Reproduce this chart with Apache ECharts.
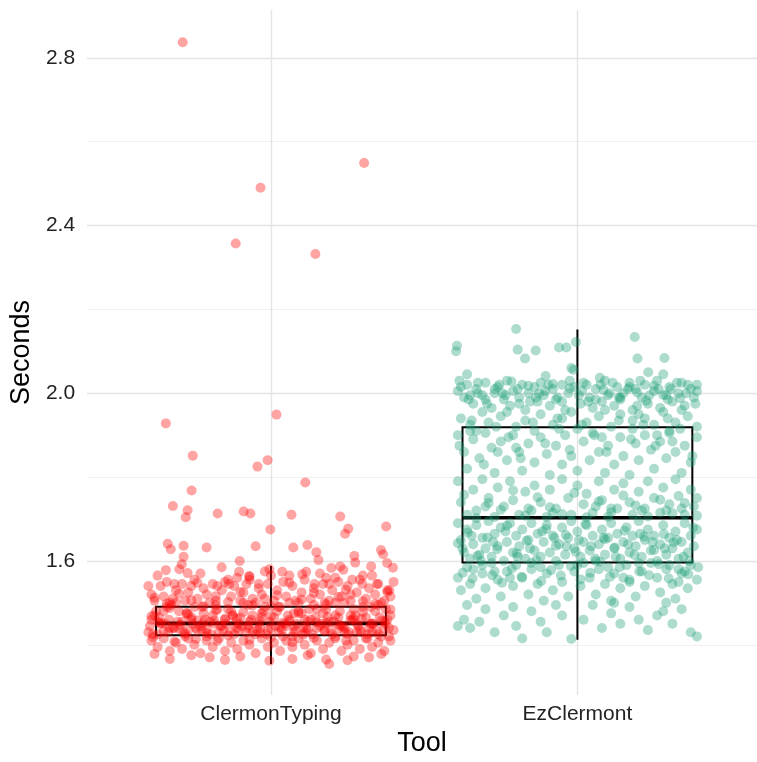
<!DOCTYPE html>
<html>
<head>
<meta charset="utf-8">
<title>Seconds by tool</title>
<script src="https://cdn.jsdelivr.net/npm/echarts@6/dist/echarts.min.js"></script>
<style>
  html, body { margin: 0; padding: 0; background: #ffffff; }
  #tool_seconds { width: 757px; height: 762px; }
</style>
</head>
<body>
<div id="tool_seconds"></div>
<script>
// ------------------------------
// Data
// ------------------------------

var categories = ["ClermonTyping", "EzClermont"];

// y tick values (labelled majors, unlabelled minors)
var yMajorTicks = [1.6, 2.0, 2.4, 2.8];
var yMinorTicks = [1.4, 1.8, 2.2, 2.6];

// box stats per tool: [lower whisker, Q1, median, Q3, upper whisker]
var boxStats = [
  [1.354, 1.423, 1.451, 1.4905, 1.588],
  [1.412, 1.596, 1.703, 1.919, 2.152]
];

// jittered points: [horizontal jitter, seconds]
var clermonTypingPoints = [
  // high outliers
  [-0.288, 2.837], [0.304, 2.549], [-0.034, 2.49], [-0.115, 2.357], [0.145, 2.332],
  [-0.343, 1.928], [0.018, 1.949], [-0.255, 1.851], [-0.011, 1.84], [-0.044, 1.825],
  [0.112, 1.787], [-0.259, 1.768], [-0.32, 1.731], [-0.272, 1.721], [-0.278, 1.704],
  [-0.174, 1.713], [-0.089, 1.718], [-0.067, 1.713], [0.067, 1.71], [-0.002, 1.675],
  [0.226, 1.706], [0.252, 1.677], [0.242, 1.665], [0.376, 1.682], [-0.337, 1.641],
  [-0.327, 1.628], [-0.285, 1.636], [-0.21, 1.632], [-0.05, 1.635], [0.073, 1.632],
  [0.119, 1.638], [0.148, 1.621], [0.155, 1.602], [0.359, 1.626], [0.366, 1.616],
  [-0.285, 1.61], [-0.291, 1.592], [-0.343, 1.578], [-0.272, 1.571], [-0.161, 1.585],
  [-0.102, 1.6], [-0.104, 1.574], [-0.005, 1.58], [0.037, 1.574], [0.102, 1.568],
  [0.115, 1.574], [0.197, 1.583], [0.226, 1.587], [0.236, 1.579], [0.272, 1.612],
  [0.275, 1.596], [0.327, 1.587], [0.379, 1.595], [0.398, 1.584], [-0.07, 1.562],
  [-0.299, 1.58], [-0.315, 1.545], [-0.24, 1.548], [-0.175, 1.54], [-0.136, 1.545],
  [-0.08, 1.545], [-0.071, 1.564], [-0.04, 1.545], [0.06, 1.548], [0.142, 1.545],
  [0.19, 1.545], [0.244, 1.531], [0.265, 1.555], [0.298, 1.545], [0.346, 1.545],
  [0.386, 1.53],
  [-0.37, 1.565], [-0.23, 1.57], [-0.14, 1.555], [-0.02, 1.575], [0.06, 1.565],
  [0.16, 1.57], [0.21, 1.56], [0.33, 1.565], [0.4, 1.55], [-0.4, 1.54],
  // 1.50 - 1.56
  [-0.39, 1.52], [-0.38, 1.505], [-0.36, 1.54], [-0.35, 1.515], [-0.34, 1.55],
  [-0.32, 1.51], [-0.31, 1.53], [-0.29, 1.545], [-0.28, 1.505], [-0.27, 1.525],
  [-0.25, 1.555], [-0.24, 1.51], [-0.22, 1.535], [-0.21, 1.52], [-0.19, 1.545],
  [-0.18, 1.505], [-0.16, 1.53], [-0.15, 1.55], [-0.13, 1.515], [-0.12, 1.54],
  [-0.1, 1.505], [-0.09, 1.525], [-0.07, 1.555], [-0.06, 1.51], [-0.04, 1.535],
  [-0.03, 1.52], [-0.01, 1.545], [0.01, 1.505], [0.02, 1.53], [0.04, 1.55],
  [0.05, 1.515], [0.07, 1.54], [0.08, 1.505], [0.1, 1.525], [0.11, 1.555],
  [0.13, 1.51], [0.14, 1.535], [0.16, 1.52], [0.17, 1.545], [0.19, 1.505],
  [0.2, 1.53], [0.22, 1.55], [0.23, 1.515], [0.25, 1.54], [0.26, 1.505],
  [0.28, 1.525], [0.29, 1.555], [0.31, 1.51], [0.32, 1.535], [0.34, 1.52],
  [0.35, 1.545], [0.37, 1.505], [0.38, 1.53], [0.39, 1.515], [-0.33, 1.5],
  [-0.2, 1.5], [-0.05, 1.5], [0.09, 1.5], [0.24, 1.5], [0.36, 1.5],
  [-0.26, 1.54], [0.0, 1.565], [0.18, 1.56], [-0.11, 1.56], [0.3, 1.565],
  [-0.38, 1.512], [-0.34, 1.498], [-0.3, 1.522], [-0.26, 1.506], [-0.22, 1.492],
  [-0.18, 1.516], [-0.14, 1.502], [-0.1, 1.526], [-0.06, 1.494], [-0.02, 1.51],
  [0.02, 1.518], [0.06, 1.5], [0.1, 1.508], [0.14, 1.524], [0.18, 1.496],
  [0.22, 1.514], [0.26, 1.52], [0.3, 1.504], [0.34, 1.498], [0.38, 1.526],
  // core 1.42 - 1.50
  [-0.4, 1.43], [-0.38, 1.47], [-0.36, 1.45], [-0.34, 1.49], [-0.32, 1.44],
  [-0.3, 1.48], [-0.28, 1.42], [-0.26, 1.46], [-0.24, 1.435], [-0.22, 1.475],
  [-0.2, 1.455], [-0.18, 1.495], [-0.16, 1.445], [-0.14, 1.485], [-0.12, 1.425],
  [-0.1, 1.465], [-0.08, 1.43], [-0.06, 1.47], [-0.04, 1.45], [-0.02, 1.49],
  [0.0, 1.44], [0.02, 1.48], [0.04, 1.42], [0.06, 1.46], [0.08, 1.435],
  [0.1, 1.475], [0.12, 1.455], [0.14, 1.495], [0.16, 1.445], [0.18, 1.485],
  [0.2, 1.425], [0.22, 1.465], [0.24, 1.43], [0.26, 1.47], [0.28, 1.45],
  [0.3, 1.49], [0.32, 1.44], [0.34, 1.48], [0.36, 1.42], [0.38, 1.46],
  [0.4, 1.435],
  [-0.39, 1.46], [-0.37, 1.425], [-0.35, 1.48], [-0.33, 1.44], [-0.31, 1.5],
  [-0.29, 1.455], [-0.27, 1.435], [-0.25, 1.49], [-0.23, 1.445], [-0.21, 1.42],
  [-0.19, 1.47], [-0.17, 1.43], [-0.15, 1.46], [-0.13, 1.48], [-0.11, 1.44],
  [-0.09, 1.5], [-0.07, 1.455], [-0.05, 1.425], [-0.03, 1.475], [-0.01, 1.435],
  [0.01, 1.465], [0.03, 1.49], [0.05, 1.445], [0.07, 1.42], [0.09, 1.48],
  [0.11, 1.43], [0.13, 1.46], [0.15, 1.44], [0.17, 1.475], [0.19, 1.455],
  [0.21, 1.5], [0.23, 1.445], [0.25, 1.425], [0.27, 1.485], [0.29, 1.435],
  [0.31, 1.465], [0.33, 1.45], [0.35, 1.495], [0.37, 1.44], [0.39, 1.47],
  [-0.395, 1.445], [-0.365, 1.465], [-0.335, 1.43], [-0.305, 1.455], [-0.275, 1.475],
  [-0.245, 1.44], [-0.215, 1.46], [-0.185, 1.45], [-0.155, 1.435], [-0.125, 1.47],
  [-0.095, 1.445], [-0.065, 1.46], [-0.035, 1.44], [-0.005, 1.455], [0.025, 1.43],
  [0.055, 1.47], [0.085, 1.45], [0.115, 1.44], [0.145, 1.465], [0.175, 1.435],
  [0.205, 1.455], [0.235, 1.445], [0.265, 1.46], [0.295, 1.43], [0.325, 1.45],
  [0.355, 1.465], [0.385, 1.44],
  [-0.385, 1.425], [-0.345, 1.45], [-0.315, 1.44], [-0.285, 1.43], [-0.255, 1.45],
  [-0.225, 1.435], [-0.195, 1.425], [-0.165, 1.445], [-0.135, 1.43], [-0.105, 1.45],
  [-0.075, 1.44], [-0.045, 1.435], [-0.015, 1.425], [0.015, 1.445], [0.045, 1.45],
  [0.075, 1.43], [0.105, 1.44], [0.135, 1.425], [0.165, 1.45], [0.195, 1.435],
  [0.225, 1.44], [0.255, 1.43], [0.285, 1.445], [0.315, 1.425], [0.345, 1.435],
  [0.375, 1.45],
  [-0.375, 1.48], [-0.325, 1.495], [-0.275, 1.475], [-0.225, 1.49], [-0.175, 1.485],
  [-0.125, 1.47], [-0.075, 1.495], [-0.025, 1.48], [0.025, 1.49], [0.075, 1.475],
  [0.125, 1.485], [0.175, 1.5], [0.225, 1.48], [0.275, 1.47], [0.325, 1.49],
  [0.375, 1.485],
  [-0.39, 1.468], [-0.36, 1.452], [-0.33, 1.488], [-0.3, 1.438], [-0.27, 1.472],
  [-0.24, 1.458], [-0.21, 1.428], [-0.18, 1.482], [-0.15, 1.462], [-0.12, 1.448],
  [-0.09, 1.478], [-0.06, 1.432], [-0.03, 1.466], [0.0, 1.492], [0.03, 1.442],
  [0.06, 1.456], [0.09, 1.476], [0.12, 1.436], [0.15, 1.486], [0.18, 1.452],
  [0.21, 1.47], [0.24, 1.44], [0.27, 1.462], [0.3, 1.478], [0.33, 1.43],
  [0.36, 1.458], [0.39, 1.484],
  [-0.37, 1.455], [-0.333, 1.46], [-0.296, 1.448], [-0.259, 1.465], [-0.222, 1.452],
  [-0.185, 1.458], [-0.148, 1.45], [-0.111, 1.462], [-0.074, 1.446], [-0.037, 1.456],
  [0.0, 1.468], [0.037, 1.452], [0.074, 1.444], [0.111, 1.46], [0.148, 1.454],
  [0.185, 1.466], [0.222, 1.448], [0.259, 1.458], [0.296, 1.462], [0.333, 1.45],
  [0.37, 1.456],
  // 1.40 - 1.44
  [-0.385, 1.418], [-0.35, 1.432], [-0.315, 1.408], [-0.28, 1.426], [-0.245, 1.414],
  [-0.21, 1.438], [-0.175, 1.41], [-0.14, 1.422], [-0.105, 1.434], [-0.07, 1.412],
  [-0.035, 1.428], [0.0, 1.418], [0.035, 1.436], [0.07, 1.406], [0.105, 1.424],
  [0.14, 1.416], [0.175, 1.432], [0.21, 1.42], [0.245, 1.41], [0.28, 1.43],
  [0.315, 1.415], [0.35, 1.425], [0.385, 1.42],
  // 1.38 - 1.42
  [-0.39, 1.41], [-0.37, 1.395], [-0.35, 1.415], [-0.33, 1.385], [-0.31, 1.405],
  [-0.29, 1.39], [-0.27, 1.415], [-0.25, 1.4], [-0.23, 1.38], [-0.21, 1.41],
  [-0.19, 1.395], [-0.17, 1.415], [-0.15, 1.385], [-0.13, 1.405], [-0.11, 1.39],
  [-0.09, 1.41], [-0.07, 1.4], [-0.05, 1.38], [-0.03, 1.415], [-0.01, 1.395],
  [0.01, 1.405], [0.03, 1.385], [0.05, 1.41], [0.07, 1.395], [0.09, 1.415],
  [0.11, 1.4], [0.13, 1.38], [0.15, 1.41], [0.17, 1.39], [0.19, 1.405],
  [0.21, 1.415], [0.23, 1.385], [0.25, 1.4], [0.27, 1.41], [0.29, 1.39],
  [0.31, 1.415], [0.33, 1.395], [0.35, 1.405], [0.37, 1.385], [0.39, 1.41],
  // low tail
  [-0.33, 1.366], [-0.2, 1.37], [-0.15, 1.364], [-0.1, 1.372], [-0.005, 1.362],
  [0.07, 1.366], [0.12, 1.375], [0.18, 1.365], [0.19, 1.354], [0.25, 1.363],
  [0.27, 1.372], [0.32, 1.37], [-0.26, 1.375], [0.36, 1.378], [-0.38, 1.378]
];

var ezClermontPoints = [
  // top tail
  [-0.393, 2.113], [-0.396, 2.1], [-0.2, 2.153], [-0.195, 2.104], [-0.136, 2.102],
  [-0.171, 2.083], [-0.06, 2.109], [-0.036, 2.109], [-0.005, 2.122], [-0.013, 2.056],
  [0.187, 2.134], [0.196, 2.083], [0.284, 2.084], [0.231, 2.05], [-0.104, 2.041],
  [0.073, 2.037], [-0.36, 2.045], [0.28, 2.045], [-0.02, 2.06],
  // 1.96 - 2.03
  [-0.39, 2.005], [-0.37, 1.99], [-0.36, 2.02], [-0.34, 1.975], [-0.33, 2.01],
  [-0.31, 1.995], [-0.3, 2.025], [-0.28, 1.965], [-0.27, 2.0], [-0.26, 2.015],
  [-0.24, 1.985], [-0.23, 2.03], [-0.22, 1.97], [-0.21, 2.005], [-0.19, 1.99],
  [-0.18, 2.02], [-0.17, 1.96], [-0.16, 2.0], [-0.14, 2.015], [-0.13, 1.98],
  [-0.12, 2.025], [-0.11, 1.995], [-0.09, 1.97], [-0.08, 2.01], [-0.07, 1.985],
  [-0.05, 2.02], [-0.04, 1.96], [-0.03, 2.0], [-0.01, 2.015], [0.01, 1.975],
  [0.02, 2.025], [0.04, 1.99], [0.05, 1.965], [0.06, 2.01], [0.08, 1.98],
  [0.09, 2.03], [0.1, 1.995], [0.12, 1.97], [0.13, 2.015], [0.14, 1.985],
  [0.15, 2.0], [0.17, 2.025], [0.18, 1.96], [0.19, 2.01], [0.21, 1.99],
  [0.22, 2.02], [0.23, 1.975], [0.25, 2.005], [0.26, 2.03], [0.27, 1.965],
  [0.29, 1.995], [0.3, 2.015], [0.31, 1.98], [0.33, 2.0], [0.34, 2.025],
  [0.35, 1.97], [0.37, 2.01], [0.38, 1.99], [0.39, 2.02],
  [-0.385, 2.03], [-0.355, 1.985], [-0.325, 2.0], [-0.295, 1.975], [-0.255, 2.02],
  [-0.235, 1.995], [-0.195, 2.01], [-0.155, 1.98], [-0.125, 2.0], [-0.095, 2.02],
  [-0.065, 1.99], [-0.025, 2.03], [0.015, 2.005], [0.035, 1.98], [0.075, 2.02],
  [0.105, 2.0], [0.135, 1.99], [0.165, 2.01], [0.195, 1.97], [0.205, 2.03],
  [0.235, 1.995], [0.265, 2.01], [0.295, 1.985], [0.325, 2.025], [0.355, 2.0],
  [0.385, 1.975],
  [-0.38, 2.015], [-0.35, 1.995], [-0.325, 2.025], [-0.3, 1.985], [-0.27, 2.01],
  [-0.245, 2.0], [-0.215, 2.028], [-0.19, 1.975], [-0.16, 2.018], [-0.135, 1.99],
  [-0.105, 2.005], [-0.08, 2.022], [-0.05, 1.98], [-0.025, 2.012], [0.005, 1.995],
  [0.03, 2.02], [0.06, 1.985], [0.085, 2.008], [0.115, 2.025], [0.14, 1.99],
  [0.17, 2.015], [0.195, 2.002], [0.225, 1.982], [0.25, 2.018], [0.28, 1.996],
  [0.305, 2.01], [0.335, 1.988], [0.36, 2.02], [0.39, 2.005],
  // 1.91 - 1.96
  [-0.38, 1.94], [-0.35, 1.925], [-0.31, 1.955], [-0.29, 1.93], [-0.25, 1.945],
  [-0.2, 1.92], [-0.17, 1.935], [-0.12, 1.95], [-0.08, 1.925], [-0.05, 1.94],
  [-0.02, 1.955], [0.03, 1.93], [0.07, 1.945], [0.11, 1.92], [0.14, 1.95],
  [0.18, 1.935], [0.22, 1.94], [0.25, 1.925], [0.28, 1.955], [0.32, 1.93],
  [0.36, 1.945], [0.39, 1.92], [-0.33, 1.91], [0.0, 1.915], [0.2, 1.95],
  [-0.14, 1.91], [0.3, 1.91], [-0.23, 1.955], [0.09, 1.96], [0.34, 1.96],
  // 1.80 - 1.91
  [-0.39, 1.9], [-0.37, 1.86], [-0.36, 1.82], [-0.34, 1.89], [-0.32, 1.845],
  [-0.3, 1.905], [-0.28, 1.87], [-0.27, 1.81], [-0.25, 1.885], [-0.23, 1.84],
  [-0.21, 1.9], [-0.19, 1.86], [-0.18, 1.815], [-0.16, 1.88], [-0.14, 1.835],
  [-0.12, 1.895], [-0.1, 1.855], [-0.09, 1.805], [-0.07, 1.875], [-0.05, 1.83],
  [-0.04, 1.9], [-0.02, 1.85], [0.0, 1.815], [0.02, 1.885], [0.04, 1.84],
  [0.05, 1.905], [0.07, 1.86], [0.09, 1.81], [0.1, 1.875], [0.12, 1.83],
  [0.14, 1.895], [0.15, 1.85], [0.17, 1.805], [0.19, 1.88], [0.2, 1.84],
  [0.22, 1.9], [0.24, 1.865], [0.25, 1.82], [0.27, 1.885], [0.29, 1.845],
  [0.3, 1.905], [0.32, 1.86], [0.34, 1.81], [0.35, 1.875], [0.37, 1.835],
  [0.39, 1.895], [-0.35, 1.91], [-0.2, 1.87], [-0.06, 1.915], [0.08, 1.895],
  [0.18, 1.915], [0.31, 1.885], [-0.26, 1.86], [0.26, 1.9],
  [-0.385, 1.875], [-0.345, 1.935], [-0.305, 1.83], [-0.265, 1.92], [-0.225, 1.895],
  [-0.185, 1.845], [-0.145, 1.93], [-0.105, 1.88], [-0.065, 1.94], [-0.025, 1.865],
  [0.015, 1.925], [0.055, 1.9], [0.095, 1.86], [0.135, 1.935], [0.175, 1.89],
  [0.215, 1.925], [0.255, 1.875], [0.295, 1.94], [0.335, 1.915], [0.375, 1.85],
  // 1.70 - 1.80
  [-0.39, 1.79], [-0.38, 1.74], [-0.36, 1.71], [-0.34, 1.77], [-0.33, 1.72],
  [-0.31, 1.795], [-0.29, 1.75], [-0.27, 1.705], [-0.26, 1.775], [-0.24, 1.73],
  [-0.22, 1.79], [-0.21, 1.745], [-0.19, 1.71], [-0.17, 1.765], [-0.15, 1.72],
  [-0.14, 1.78], [-0.12, 1.74], [-0.1, 1.705], [-0.09, 1.77], [-0.07, 1.725],
  [-0.05, 1.795], [-0.03, 1.75], [-0.02, 1.71], [0.0, 1.78], [0.02, 1.735],
  [0.03, 1.76], [0.05, 1.715], [0.07, 1.79], [0.08, 1.745], [0.1, 1.705],
  [0.12, 1.77], [0.13, 1.725], [0.15, 1.785], [0.17, 1.74], [0.18, 1.71],
  [0.2, 1.765], [0.22, 1.725], [0.23, 1.79], [0.25, 1.75], [0.27, 1.715],
  [0.28, 1.775], [0.3, 1.735], [0.32, 1.795], [0.33, 1.755], [0.35, 1.71],
  [0.37, 1.77], [0.38, 1.73], [0.39, 1.75], [-0.3, 1.73], [-0.16, 1.725],
  [0.06, 1.73], [0.21, 1.72], [0.34, 1.725], [-0.08, 1.715], [0.11, 1.725],
  [0.29, 1.72],
  [-0.37, 1.758], [-0.33, 1.702], [-0.29, 1.738], [-0.25, 1.722], [-0.21, 1.768],
  [-0.17, 1.708], [-0.13, 1.752], [-0.09, 1.728], [-0.05, 1.712], [-0.01, 1.762],
  [0.03, 1.704], [0.07, 1.742], [0.11, 1.716], [0.15, 1.756], [0.19, 1.732],
  [0.23, 1.706], [0.27, 1.746], [0.31, 1.714], [0.35, 1.738], [0.39, 1.708],
  // 1.60 - 1.70
  [-0.39, 1.69], [-0.38, 1.65], [-0.37, 1.62], [-0.36, 1.675], [-0.35, 1.605],
  [-0.34, 1.64], [-0.33, 1.685], [-0.32, 1.615], [-0.31, 1.655], [-0.3, 1.63],
  [-0.29, 1.695], [-0.28, 1.61], [-0.27, 1.665], [-0.26, 1.635], [-0.25, 1.68],
  [-0.24, 1.6], [-0.23, 1.645], [-0.22, 1.69], [-0.21, 1.62], [-0.2, 1.66],
  [-0.19, 1.635], [-0.18, 1.675], [-0.17, 1.605], [-0.16, 1.65], [-0.15, 1.69],
  [-0.14, 1.625], [-0.13, 1.665], [-0.12, 1.61], [-0.11, 1.645], [-0.1, 1.685],
  [-0.09, 1.62], [-0.08, 1.66], [-0.07, 1.6], [-0.06, 1.64], [-0.05, 1.68],
  [-0.04, 1.615], [-0.03, 1.655], [-0.02, 1.695], [-0.01, 1.63], [0.0, 1.67],
  [0.01, 1.61], [0.02, 1.645], [0.03, 1.685], [0.04, 1.625], [0.05, 1.66],
  [0.06, 1.6], [0.07, 1.64], [0.08, 1.675], [0.09, 1.615], [0.1, 1.655],
  [0.11, 1.69], [0.12, 1.63], [0.13, 1.665], [0.14, 1.605], [0.15, 1.645],
  [0.16, 1.68], [0.17, 1.62], [0.18, 1.66], [0.19, 1.635], [0.2, 1.695],
  [0.21, 1.61], [0.22, 1.65], [0.23, 1.675], [0.24, 1.625], [0.25, 1.66],
  [0.26, 1.6], [0.27, 1.64], [0.28, 1.685], [0.29, 1.615], [0.3, 1.655],
  [0.31, 1.63], [0.32, 1.67], [0.33, 1.605], [0.34, 1.645], [0.35, 1.69],
  [0.36, 1.62], [0.37, 1.66], [0.38, 1.635], [0.39, 1.675],
  [-0.375, 1.63], [-0.345, 1.66], [-0.315, 1.6], [-0.275, 1.645], [-0.235, 1.67],
  [-0.195, 1.61], [-0.155, 1.63], [-0.115, 1.67], [-0.075, 1.655], [-0.035, 1.635],
  [0.005, 1.65], [0.045, 1.635], [0.085, 1.655], [0.125, 1.61], [0.165, 1.64],
  [0.205, 1.665], [0.245, 1.645], [0.285, 1.63], [0.325, 1.65], [0.365, 1.6],
  [-0.39, 1.642], [-0.358, 1.668], [-0.326, 1.612], [-0.294, 1.656], [-0.262, 1.628],
  [-0.23, 1.684], [-0.198, 1.618], [-0.166, 1.648], [-0.134, 1.602], [-0.102, 1.676],
  [-0.07, 1.636], [-0.038, 1.662], [-0.006, 1.622], [0.026, 1.688], [0.058, 1.606],
  [0.09, 1.652], [0.122, 1.632], [0.154, 1.672], [0.186, 1.614], [0.218, 1.658],
  [0.25, 1.626], [0.282, 1.664], [0.314, 1.644], [0.346, 1.61], [0.378, 1.68],
  // 1.50 - 1.60
  [-0.39, 1.56], [-0.38, 1.53], [-0.36, 1.585], [-0.35, 1.545], [-0.33, 1.51],
  [-0.31, 1.57], [-0.3, 1.535], [-0.28, 1.595], [-0.26, 1.555], [-0.25, 1.515],
  [-0.23, 1.575], [-0.21, 1.54], [-0.2, 1.59], [-0.18, 1.56], [-0.16, 1.52],
  [-0.15, 1.58], [-0.13, 1.545], [-0.11, 1.505], [-0.1, 1.57], [-0.08, 1.53],
  [-0.06, 1.59], [-0.05, 1.55], [-0.03, 1.515], [-0.01, 1.575], [0.01, 1.54],
  [0.02, 1.595], [0.04, 1.56], [0.06, 1.52], [0.07, 1.58], [0.09, 1.545],
  [0.11, 1.505], [0.12, 1.57], [0.14, 1.535], [0.16, 1.59], [0.17, 1.555],
  [0.19, 1.515], [0.21, 1.575], [0.22, 1.54], [0.24, 1.595], [0.26, 1.56],
  [0.27, 1.525], [0.29, 1.58], [0.31, 1.545], [0.32, 1.51], [0.34, 1.57],
  [0.36, 1.535], [0.37, 1.59], [0.39, 1.555], [-0.34, 1.58], [-0.22, 1.56],
  [-0.12, 1.585], [0.0, 1.59], [0.1, 1.585], [0.2, 1.595], [0.3, 1.59],
  [0.35, 1.575], [-0.27, 1.575], [0.15, 1.56], [0.33, 1.55],
  [-0.374, 1.572], [-0.342, 1.558], [-0.31, 1.59], [-0.278, 1.566], [-0.246, 1.548],
  [-0.214, 1.582], [-0.182, 1.562], [-0.15, 1.595], [-0.118, 1.552], [-0.086, 1.578],
  [-0.054, 1.565], [-0.022, 1.588], [0.01, 1.556], [0.042, 1.572], [0.074, 1.598],
  [0.106, 1.562], [0.138, 1.585], [0.17, 1.55], [0.202, 1.575], [0.234, 1.566],
  [0.266, 1.592], [0.298, 1.558], [0.33, 1.58], [0.362, 1.568], [0.394, 1.585],
  // 1.41 - 1.50
  [-0.39, 1.445], [-0.37, 1.46], [-0.35, 1.44], [-0.32, 1.455], [-0.3, 1.485],
  [-0.27, 1.43], [-0.24, 1.47], [-0.21, 1.49], [-0.18, 1.415], [-0.15, 1.48],
  [-0.12, 1.455], [-0.1, 1.43], [-0.07, 1.495], [-0.05, 1.47], [-0.02, 1.414],
  [0.02, 1.46], [0.05, 1.495], [0.08, 1.44], [0.11, 1.475], [0.14, 1.45],
  [0.17, 1.49], [0.2, 1.46], [0.23, 1.435], [0.26, 1.47], [0.29, 1.5],
  [0.31, 1.45], [0.34, 1.485], [0.37, 1.43], [0.39, 1.42], [-0.36, 1.495],
  [0.12, 1.5], [-0.2, 1.445], [0.28, 1.48]
];

// ------------------------------
// Chart
// ------------------------------

var toolSeconds = (function () {
  var toolSecondsChart = function () {
    if (typeof echarts == "undefined") {
      console.warn("Warning - echarts.min.js is not loaded.");
      return;
    }

    var tool_seconds_element = document.getElementById("tool_seconds");
    if (!tool_seconds_element) return;

    var tool_seconds = echarts.init(tool_seconds_element, null, { renderer: "canvas" });

    var fontFamily = "'Liberation Sans', Arial, Helvetica, sans-serif";

    // category position + jitter
    var toScatter = function (points, catIndex) {
      return points.map(function (p) {
        return [catIndex + 1 + p[0], p[1]];
      });
    };

    // box series data: [x, low, q1, med, q3, high]
    var boxData = boxStats.map(function (s, i) {
      return [i + 1].concat(s);
    });

    // grid lines drawn as mark lines so majors and minors can differ
    var gridLines = []
      .concat(yMinorTicks.map(function (v) {
        return { yAxis: v, lineStyle: { color: "#efefef", width: 1 } };
      }))
      .concat(yMajorTicks.map(function (v) {
        return { yAxis: v, lineStyle: { color: "#e4e4e4", width: 1.4 } };
      }))
      .concat(categories.map(function (c, i) {
        return { xAxis: i + 1, lineStyle: { color: "#e4e4e4", width: 1.4 } };
      }));

    tool_seconds.setOption({
      animation: false,
      textStyle: { fontFamily: fontFamily },

      grid: { left: 85, right: 0, top: 10, bottom: 66 },

      xAxis: {
        type: "value",
        min: 0.4,
        max: 2.586,
        name: "Tool",
        nameLocation: "middle",
        nameGap: 33,
        nameTextStyle: { fontSize: 27, color: "#000", fontFamily: fontFamily },
        axisLine: { show: false },
        axisTick: { show: false },
        splitLine: { show: false },
        axisLabel: {
          customValues: [1, 2],
          formatter: function (v) { return categories[Math.round(v) - 1] || ""; },
          fontSize: 21,
          color: "#222",
          margin: 9
        }
      },

      yAxis: {
        type: "value",
        min: 1.28,
        max: 2.914,
        name: "Seconds",
        nameLocation: "middle",
        nameGap: 51,
        nameRotate: 90,
        nameTextStyle: { fontSize: 27, color: "#000", fontFamily: fontFamily },
        axisLine: { show: false },
        axisTick: { show: false },
        splitLine: { show: false },
        axisLabel: {
          customValues: yMajorTicks,
          formatter: function (v) { return v.toFixed(1); },
          fontSize: 21,
          color: "#222",
          margin: 12
        }
      },

      series: [
        {
          name: "grid",
          type: "scatter",
          data: [],
          z: 0,
          silent: true,
          markLine: {
            z: 0,
            silent: true,
            symbol: "none",
            label: { show: false },
            lineStyle: { type: "solid" },
            data: gridLines
          }
        },
        {
          name: "box",
          type: "custom",
          z: 8,
          silent: true,
          data: boxData,
          renderItem: function (params, api) {
            var x = api.value(0);
            var half = api.size([0.375, 0])[0];
            var low = api.coord([x, api.value(1)]);
            var q1 = api.coord([x, api.value(2)]);
            var med = api.coord([x, api.value(3)]);
            var q3 = api.coord([x, api.value(4)]);
            var high = api.coord([x, api.value(5)]);
            var stroke = { stroke: "#000", lineWidth: 2, fill: null };
            return {
              type: "group",
              children: [
                { type: "line", shape: { x1: high[0], y1: high[1], x2: q3[0], y2: q3[1] }, style: stroke },
                { type: "line", shape: { x1: q1[0], y1: q1[1], x2: low[0], y2: low[1] }, style: stroke },
                {
                  type: "rect",
                  shape: { x: q3[0] - half, y: q3[1], width: half * 2, height: q1[1] - q3[1] },
                  style: stroke
                },
                {
                  type: "line",
                  shape: { x1: med[0] - half, y1: med[1], x2: med[0] + half, y2: med[1] },
                  style: { stroke: "#000", lineWidth: 3.6 }
                }
              ]
            };
          }
        },
        {
          name: categories[0],
          type: "scatter",
          z: 10,
          symbolSize: 10,
          itemStyle: { color: "rgba(255, 0, 0, 0.45)" },
          data: toScatter(clermonTypingPoints, 0)
        },
        {
          name: categories[1],
          type: "scatter",
          z: 10,
          symbolSize: 10,
          itemStyle: { color: "rgba(27, 158, 119, 0.45)" },
          data: toScatter(ezClermontPoints, 1)
        }
      ]
    });

    var resizeCharts;
    window.addEventListener("resize", function () {
      clearTimeout(resizeCharts);
      resizeCharts = setTimeout(function () {
        tool_seconds.resize();
      }, 200);
    });
  };

  return {
    init: function () {
      toolSecondsChart();
    }
  };
})();

document.addEventListener("DOMContentLoaded", function () {
  toolSeconds.init();
});
</script>
</body>
</html>
